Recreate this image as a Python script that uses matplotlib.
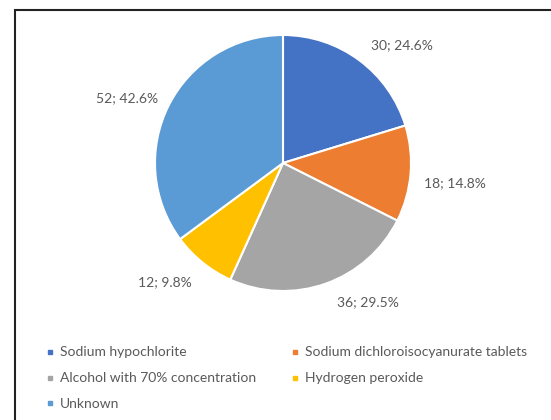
import matplotlib.pyplot as plt
from matplotlib.lines import Line2D
from matplotlib.patches import Rectangle

plt.rcParams['font.family'] = ['Lato', 'DejaVu Sans']

# data
agents = ["Sodium hypochlorite", "Sodium dichloroisocyanurate tablets",
          "Alcohol with 70% concentration", "Hydrogen peroxide", "Unknown"]
counts = [30, 18, 36, 12, 52]
pct_labels = [24.6, 14.8, 29.5, 9.8, 42.6]
colors = ["#4472C4", "#ED7D31", "#A5A5A5", "#FFC000", "#5B9BD5"]

W, H = 551, 420
fig = plt.figure(figsize=(W / 100, H / 100), dpi=100)

# pie centre (283,163) px, radius 128 px
cx, cy, r = 283, 163, 128
ax = fig.add_axes([(cx - r) / W, (H - cy - r) / H, 2 * r / W, 2 * r / H])
labels = ["%d; %s%%" % (c, p) for c, p in zip(counts, pct_labels)]
wedges, texts = ax.pie(counts, colors=colors, startangle=90, counterclock=False,
                       labels=labels, labeldistance=1.3,
                       wedgeprops=dict(edgecolor="white", linewidth=1.5),
                       textprops=dict(color="#595959", fontsize=10))
ax.set_xlim(-1, 1)
ax.set_ylim(-1, 1)
ax.set_aspect("equal")

# label placement like the Excel outside-end labels
label_pos = [(0.93, 0.92), (1.34, -0.16), (0.66, -1.09), (-0.92, -0.93), (-1.22, 0.51)]
for t, (x, y) in zip(texts, label_pos):
    t.set_position((x, y))
    t.set_ha("center")
    t.set_va("center")

# legend, row-major order in two columns
order = [0, 2, 4, 1, 3]
handles = [Line2D([], [], linestyle="none", marker="s", markersize=3,
                  color=colors[i]) for i in order]
fig.legend(handles, [agents[i] for i in order], ncol=2, frameon=False,
           loc="upper left", bbox_to_anchor=(35 / W, 1 - 334 / H),
           handlelength=0.4, handletextpad=0.5, columnspacing=2.6,
           labelspacing=1.0, fontsize=10, labelcolor="#595959")

# frame of the original (left and top edges visible)
fig.patches.append(Rectangle((15 / W, -0.1), 1.2, 1 - 10 / H + 0.1,
                             transform=fig.transFigure, fill=False,
                             edgecolor="#222222", linewidth=1.5))

fig.savefig("out.png", dpi=100)
